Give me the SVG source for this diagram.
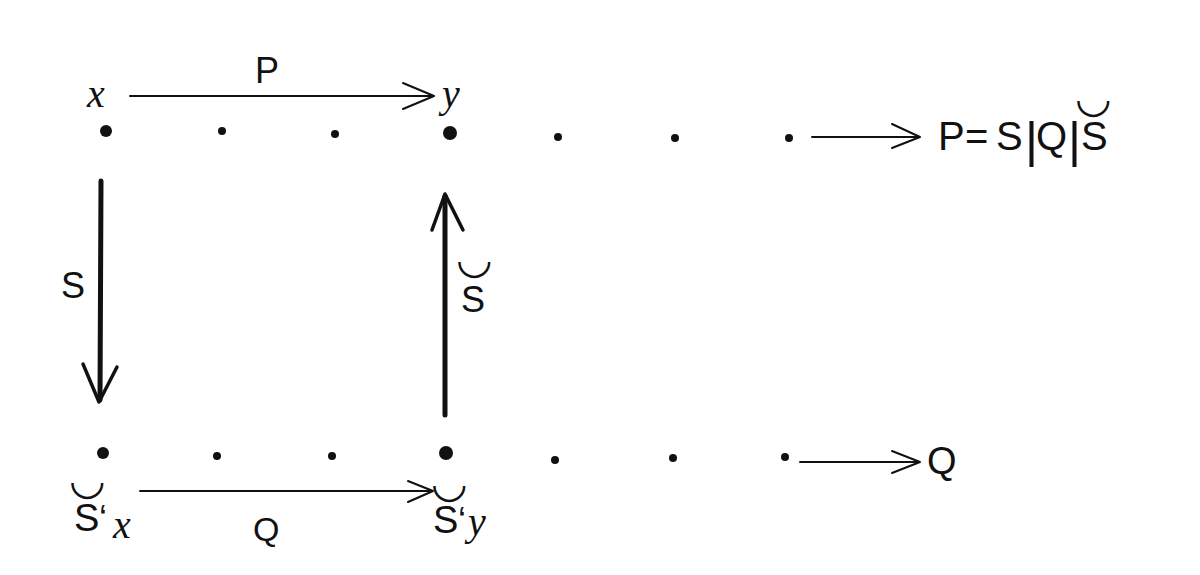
<svg xmlns="http://www.w3.org/2000/svg" width="1200" height="575" viewBox="0 0 1200 575">
<style>
.sans{font-family:"Liberation Sans","DejaVu Sans",sans-serif;fill:#111}
.it{font-family:"Liberation Serif","DejaVu Serif",serif;font-style:italic;fill:#111}
.br{font-family:"DejaVu Sans","Liberation Sans",sans-serif;fill:#111;font-size:42px}
.thin{stroke:#111;stroke-width:2;fill:none;stroke-linecap:round;stroke-linejoin:round}
.thick{stroke:#111;stroke-width:5;fill:none;stroke-linecap:round;stroke-linejoin:round}
.dot{fill:#111}
</style>
<rect width="1200" height="575" fill="#fff"/>
<g id="nodes">
<g id="top-row">
<circle class="dot" cx="106" cy="131" r="6"/>
<circle class="dot" cx="222" cy="131" r="4"/>
<circle class="dot" cx="335" cy="134" r="4"/>
<circle class="dot" cx="450" cy="133" r="7"/>
<circle class="dot" cx="558" cy="137" r="4"/>
<circle class="dot" cx="675" cy="138" r="4"/>
<circle class="dot" cx="789" cy="138" r="4"/>
</g>
<g id="bottom-row">
<circle class="dot" cx="103" cy="453" r="6"/>
<circle class="dot" cx="217" cy="456" r="4"/>
<circle class="dot" cx="332" cy="456" r="4"/>
<circle class="dot" cx="446" cy="453" r="7"/>
<circle class="dot" cx="555" cy="460" r="4"/>
<circle class="dot" cx="673" cy="458" r="4"/>
<circle class="dot" cx="785" cy="457" r="4"/>
</g>
<g id="label-x"><text class="it" x="87" y="107" font-size="40">x</text></g>
<g id="label-y"><text class="it" x="442" y="107" font-size="40">y</text></g>
<g id="label-Sx">
<text class="br" x="69" y="494">◡</text>
<text class="sans" x="74" y="531" font-size="38">S</text>
<text class="sans" x="99" y="531" font-size="36">‘</text>
<text class="it" x="113" y="538" font-size="40">x</text>
</g>
<g id="label-Sy">
<text class="br" x="431" y="497">◡</text>
<text class="sans" x="433" y="533" font-size="38">S</text>
<text class="sans" x="458" y="533" font-size="36">‘</text>
<text class="it" x="468" y="535" font-size="40">y</text>
</g>
<g id="formula-PSQS">
<text class="sans" y="150" font-size="40"><tspan x="938">P</tspan><tspan x="965">=</tspan><tspan x="996">S</tspan><tspan x="1025" font-size="50" y="157">|</tspan><tspan x="1036" y="150">Q</tspan><tspan x="1068" font-size="50" y="157">|</tspan><tspan x="1081" y="150">S</tspan></text>
<text class="br" x="1075" y="112">◡</text>
</g>
<g id="label-Q-right"><text class="sans" x="927" y="474" font-size="38">Q</text></g>
</g>
<g id="connectors">
<g id="arrow-P">
<line class="thin" x1="130" y1="96" x2="433" y2="96"/>
<polyline class="thin" points="403,83 434,96 403,109"/>
<text class="sans" x="255" y="83" font-size="36">P</text>
</g>
<g id="arrow-right-top">
<line class="thin" x1="812" y1="137" x2="919" y2="137"/>
<polyline class="thin" points="892,124 920,137 892,148"/>
</g>
<g id="arrow-S">
<line class="thick" x1="101" y1="181" x2="100" y2="400"/>
<polyline class="thin" style="stroke-width:3.5" points="83,364 99,402 117,367"/>
<text class="sans" x="61" y="298" font-size="36">S</text>
</g>
<g id="arrow-S-conv">
<line class="thick" x1="445" y1="415" x2="445" y2="196"/>
<polyline class="thin" style="stroke-width:3.5" points="432,230 445,194 463,230"/>
<text class="sans" x="461" y="312" font-size="36">S</text>
<text class="br" x="456" y="273">◡</text>
</g>
<g id="arrow-Q">
<line class="thin" x1="140" y1="491" x2="432" y2="491"/>
<polyline class="thin" points="408,481 433,491 408,502"/>
<text class="sans" x="253" y="541" font-size="34">Q</text>
</g>
<g id="arrow-right-bottom">
<line class="thin" x1="800" y1="462" x2="919" y2="462"/>
<polyline class="thin" points="892,451 920,462 892,473"/>
</g>
</g>
</svg>
